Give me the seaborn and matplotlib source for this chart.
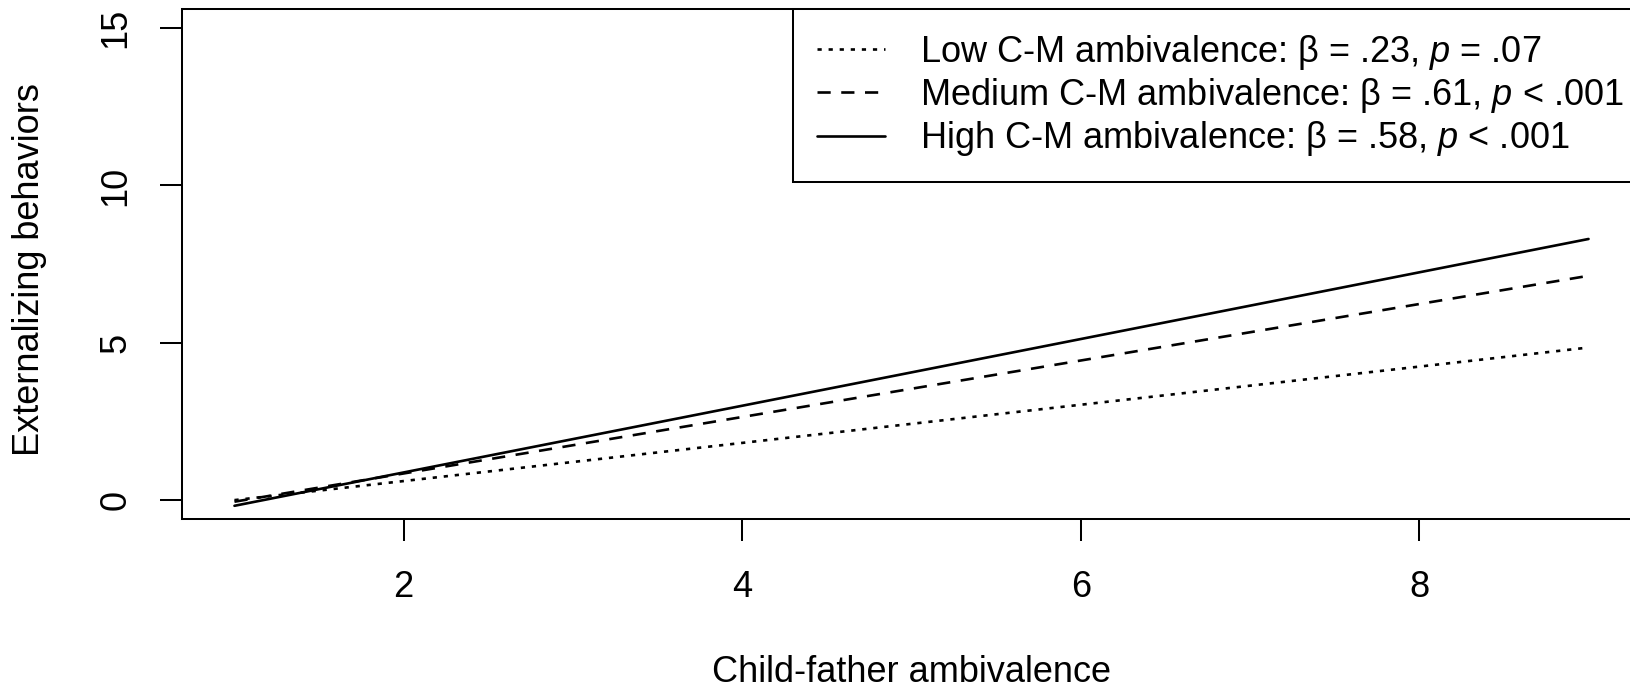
import matplotlib
matplotlib.use("Agg")
import matplotlib.pyplot as plt
import seaborn as sns
import pandas as pd

# ---- data ----
x_vals = [1, 9]
low_vals = [0.0, 4.85]
medium_vals = [-0.05, 7.13]
high_vals = [-0.18, 8.30]
series_labels = [
    r"Low C-M ambivalence: β = .23, $p$ = .07",
    r"Medium C-M ambivalence: β = .61, $p$ < .001",
    r"High C-M ambivalence: β = .58, $p$ < .001",
]
x_ticks = [2, 4, 6, 8]
y_ticks = [0, 5, 10, 15]
x_label = "Child-father ambivalence"
y_label = "Externalizing behaviors"

sns.set_style("white")
plt.rcParams["font.family"] = ["Liberation Sans", "DejaVu Sans"]
plt.rcParams["mathtext.fontset"] = "custom"
plt.rcParams["mathtext.rm"] = "Liberation Sans"
plt.rcParams["mathtext.it"] = "Liberation Sans:italic"
plt.rcParams["mathtext.default"] = "it"
plt.rcParams["text.color"] = "black"
plt.rcParams["axes.labelcolor"] = "black"
plt.rcParams["xtick.color"] = "black"
plt.rcParams["ytick.color"] = "black"

W, H = 1630, 690
fig = plt.figure(figsize=(W / 100, H / 100), dpi=100)
ax_l, ax_r, ax_t, ax_b = 182, 1641, 9.3, 519
ax = fig.add_axes([ax_l / W, 1 - ax_b / H, (ax_r - ax_l) / W, (ax_b - ax_t) / H])

fs = 26
lw = 1.9
styles = [(0, (1.6, 2.6)), (0, (5.0, 4.0)), "-"]
for vals, lab, ls in zip([low_vals, medium_vals, high_vals], series_labels, styles):
    df = pd.DataFrame({"x": x_vals, "y": vals})
    sns.lineplot(data=df, x="x", y="y", ax=ax, color="black", linestyle=ls,
                 linewidth=lw, label=lab)

ax.set_xlim(0.69, 9.31)
ax.set_ylim(-0.6, 15.6)
ax.set_xticks(x_ticks)
ax.set_yticks(y_ticks)
ax.set_xticklabels([str(t) for t in x_ticks])
ax.set_yticklabels([str(t) for t in y_ticks], rotation=90, va="center")

for sp in ax.spines.values():
    sp.set_visible(True)
    sp.set_color("black")
    sp.set_linewidth(1.45)

ax.tick_params(axis="both", direction="out", length=15.8, width=1.45,
               colors="black", labelcolor="black", labelsize=fs,
               bottom=True, left=True)
ax.tick_params(axis="x", pad=21)
ax.tick_params(axis="y", pad=19)

ax.set_xlabel(x_label, fontsize=fs, va="center", color="black")
ax.set_ylabel(y_label, fontsize=fs, va="center", color="black")
ax.xaxis.set_label_coords((911 - ax_l) / (ax_r - ax_l), (ax_b - 673) / (ax_b - ax_t))
ax.yaxis.set_label_coords((30 - ax_l) / (ax_r - ax_l), (ax_b - 270) / (ax_b - ax_t))

leg = ax.legend(loc="upper right", fontsize=fs, frameon=True, fancybox=False,
                shadow=False, framealpha=1, edgecolor="black",
                bbox_to_anchor=(1 + 6 / (ax_r - ax_l), 1),
                borderaxespad=0, borderpad=0.65, labelspacing=0.12,
                handlelength=1.9, handletextpad=0.95)
leg.get_frame().set_linewidth(1.45)
for h in leg.get_lines():
    h.set_linewidth(lw)
for t in leg.get_texts():
    t.set_color("black")

fig.savefig("out.png", dpi=100)
